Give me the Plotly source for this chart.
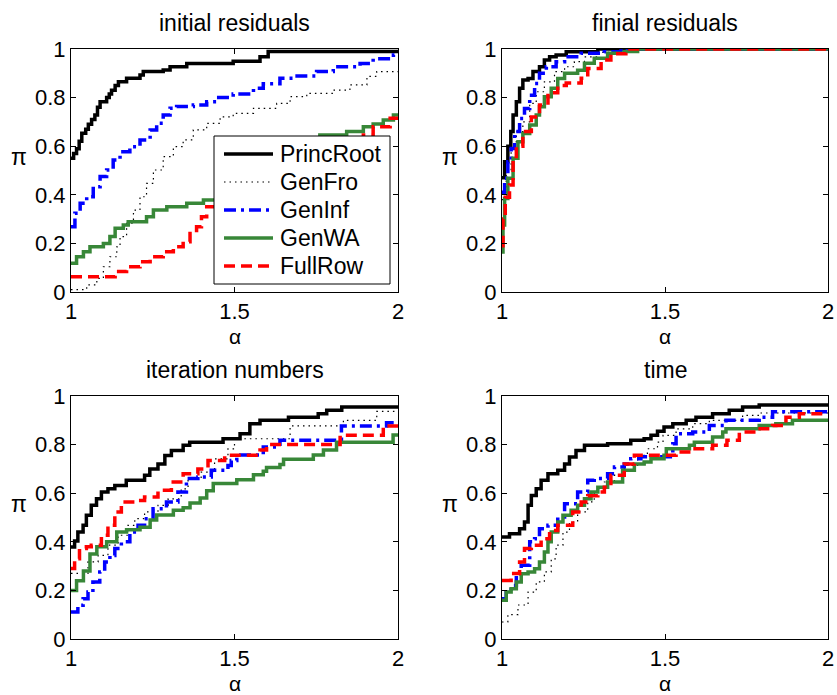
import plotly.graph_objects as go

# ---------------- data ----------------
methods = ["PrincRoot", "GenFro", "GenInf", "GenWA", "FullRow"]
panel_titles = ["initial residuals", "finial residuals", "iteration numbers", "time"]
x_ticks = [1, 1.5, 2]
y_ticks = [0, 0.2, 0.4, 0.6, 0.8, 1]
y_ticktext = ["0", "0.2", "0.4", "0.6", "0.8", "1"]

# initial residuals
ini_princ_a = [1.0, 1.008, 1.017, 1.025, 1.033, 1.045, 1.053, 1.063, 1.073, 1.081, 1.089, 1.109, 1.117, 1.124, 1.135, 1.145, 1.170, 1.211, 1.221, 1.282, 1.303, 1.354, 1.496, 1.578, 1.603]
ini_princ_p = [0.55, 0.57, 0.59, 0.62, 0.653, 0.67, 0.69, 0.71, 0.728, 0.76, 0.783, 0.80, 0.815, 0.83, 0.85, 0.865, 0.88, 0.893, 0.907, 0.914, 0.927, 0.94, 0.95, 0.968, 0.99]
ini_fro_a = [1.0, 1.048, 1.079, 1.099, 1.119, 1.140, 1.150, 1.170, 1.191, 1.211, 1.231, 1.252, 1.282, 1.313, 1.343, 1.374, 1.415, 1.456, 1.496, 1.558, 1.629, 1.670, 1.721, 1.802, 1.853, 1.905, 1.935]
ini_fro_p = [0.01, 0.029, 0.056, 0.104, 0.145, 0.186, 0.228, 0.283, 0.337, 0.392, 0.447, 0.502, 0.557, 0.598, 0.626, 0.667, 0.694, 0.721, 0.735, 0.756, 0.776, 0.804, 0.817, 0.831, 0.852, 0.887, 0.907]
ini_inf_a = [1.0, 1.012, 1.028, 1.048, 1.068, 1.089, 1.109, 1.129, 1.150, 1.180, 1.211, 1.242, 1.262, 1.282, 1.303, 1.323, 1.374, 1.415, 1.446, 1.496, 1.558, 1.588, 1.639, 1.680, 1.751, 1.802, 1.884, 1.924, 1.986]
ini_inf_p = [0.269, 0.324, 0.365, 0.392, 0.433, 0.475, 0.502, 0.543, 0.577, 0.598, 0.626, 0.667, 0.694, 0.728, 0.756, 0.763, 0.77, 0.783, 0.80, 0.815, 0.838, 0.857, 0.88, 0.889, 0.907, 0.927, 0.94, 0.96, 0.975]
ini_wa_a = [1.0, 1.017, 1.038, 1.058, 1.099, 1.119, 1.135, 1.160, 1.175, 1.231, 1.252, 1.293, 1.354, 1.405, 1.48, 1.56, 1.64, 1.70, 1.761, 1.843, 1.894, 1.924, 1.955, 1.986]
ini_wa_p = [0.118, 0.145, 0.166, 0.186, 0.2, 0.228, 0.262, 0.276, 0.289, 0.31, 0.337, 0.351, 0.365, 0.379, 0.42, 0.48, 0.55, 0.60, 0.646, 0.66, 0.68, 0.691, 0.708, 0.728]
ini_full_a = [1.0, 1.135, 1.170, 1.211, 1.242, 1.282, 1.313, 1.343, 1.364, 1.384, 1.399, 1.415, 1.50, 1.60, 1.70, 1.80, 1.894, 1.924, 1.976]
ini_full_p = [0.063, 0.084, 0.104, 0.125, 0.145, 0.166, 0.186, 0.207, 0.241, 0.269, 0.31, 0.351, 0.40, 0.47, 0.54, 0.60, 0.646, 0.68, 0.715]

# final residuals
fin_princ_a = [1.0, 1.008, 1.018, 1.027, 1.034, 1.044, 1.054, 1.064, 1.080, 1.095, 1.115, 1.130, 1.146, 1.166, 1.197, 1.294]
fin_princ_p = [0.47, 0.536, 0.60, 0.66, 0.728, 0.783, 0.838, 0.872, 0.879, 0.907, 0.927, 0.955, 0.968, 0.975, 0.989, 1.0]
fin_fro_a = [1.0, 1.013, 1.028, 1.044, 1.064, 1.085, 1.105, 1.130, 1.161, 1.192, 1.222, 1.253, 1.294, 1.345]
fin_fro_p = [0.38, 0.494, 0.618, 0.66, 0.70, 0.776, 0.824, 0.865, 0.907, 0.927, 0.948, 0.968, 0.986, 1.0]
fin_inf_a = [1.0, 1.008, 1.018, 1.028, 1.039, 1.054, 1.069, 1.085, 1.100, 1.115, 1.136, 1.166, 1.192, 1.243, 1.314, 1.365]
fin_inf_p = [0.41, 0.468, 0.536, 0.591, 0.66, 0.714, 0.755, 0.81, 0.858, 0.90, 0.927, 0.948, 0.968, 0.982, 0.989, 1.0]
fin_wa_a = [1.0, 1.003, 1.008, 1.018, 1.034, 1.049, 1.064, 1.085, 1.105, 1.115, 1.130, 1.151, 1.171, 1.192, 1.232, 1.253, 1.283, 1.324, 1.375, 1.416]
fin_wa_p = [0.165, 0.276, 0.385, 0.468, 0.55, 0.618, 0.652, 0.687, 0.728, 0.762, 0.803, 0.838, 0.879, 0.90, 0.913, 0.941, 0.962, 0.982, 0.99, 1.0]
fin_full_a = [1.0, 1.003, 1.010, 1.023, 1.034, 1.044, 1.064, 1.090, 1.115, 1.141, 1.171, 1.197, 1.243, 1.263, 1.304, 1.334, 1.380]
fin_full_p = [0.19, 0.30, 0.39, 0.44, 0.54, 0.60, 0.66, 0.72, 0.77, 0.82, 0.85, 0.86, 0.88, 0.92, 0.955, 0.98, 1.0]

# iteration numbers
it_princ_a = [1.0, 1.011, 1.021, 1.037, 1.047, 1.062, 1.078, 1.093, 1.113, 1.134, 1.169, 1.225, 1.241, 1.266, 1.287, 1.307, 1.343, 1.363, 1.465, 1.517, 1.547, 1.578, 1.665, 1.756, 1.782, 1.828]
it_princ_p = [0.379, 0.403, 0.44, 0.468, 0.509, 0.55, 0.577, 0.605, 0.618, 0.632, 0.653, 0.674, 0.70, 0.72, 0.755, 0.776, 0.797, 0.81, 0.824, 0.845, 0.886, 0.90, 0.913, 0.927, 0.941, 0.955]
it_fro_a = [1.0, 1.052, 1.083, 1.113, 1.144, 1.174, 1.195, 1.225, 1.266, 1.297, 1.337, 1.358, 1.398, 1.439, 1.480, 1.500, 1.670, 1.833, 1.935]
it_fro_p = [0.27, 0.317, 0.344, 0.386, 0.427, 0.468, 0.495, 0.523, 0.55, 0.577, 0.618, 0.66, 0.687, 0.741, 0.782, 0.824, 0.877, 0.90, 0.937]
it_inf_a = [1.0, 1.021, 1.037, 1.052, 1.067, 1.088, 1.103, 1.119, 1.134, 1.154, 1.180, 1.205, 1.225, 1.251, 1.292, 1.327, 1.353, 1.388, 1.429, 1.480, 1.490, 1.507, 1.588, 1.639, 1.827, 1.965]
it_inf_p = [0.111, 0.139, 0.166, 0.193, 0.235, 0.276, 0.317, 0.344, 0.372, 0.40, 0.44, 0.468, 0.495, 0.536, 0.564, 0.605, 0.66, 0.667, 0.694, 0.714, 0.735, 0.757, 0.79, 0.818, 0.877, 0.89]
it_wa_a = [1.0, 1.017, 1.038, 1.058, 1.079, 1.109, 1.140, 1.170, 1.211, 1.242, 1.262, 1.313, 1.343, 1.364, 1.395, 1.415, 1.435, 1.507, 1.558, 1.588, 1.598, 1.639, 1.650, 1.741, 1.772, 1.812, 1.985]
it_wa_p = [0.20, 0.24, 0.28, 0.35, 0.38, 0.40, 0.44, 0.45, 0.46, 0.49, 0.51, 0.53, 0.54, 0.56, 0.58, 0.61, 0.64, 0.655, 0.676, 0.69, 0.706, 0.718, 0.74, 0.757, 0.778, 0.81, 0.84]
it_full_a = [1.0, 1.011, 1.026, 1.047, 1.062, 1.093, 1.113, 1.134, 1.154, 1.195, 1.225, 1.266, 1.307, 1.343, 1.388, 1.419, 1.470, 1.578, 1.598, 1.823, 1.955]
it_full_p = [0.29, 0.33, 0.372, 0.38, 0.386, 0.427, 0.468, 0.523, 0.564, 0.57, 0.584, 0.612, 0.646, 0.68, 0.70, 0.735, 0.756, 0.778, 0.80, 0.838, 0.877]

# time
tm_princ_a = [1.0, 1.023, 1.054, 1.069, 1.080, 1.090, 1.105, 1.120, 1.141, 1.171, 1.192, 1.207, 1.227, 1.253, 1.324, 1.395, 1.436, 1.457, 1.477, 1.497, 1.524, 1.565, 1.595, 1.646, 1.697, 1.738, 1.789]
tm_princ_p = [0.42, 0.433, 0.454, 0.481, 0.55, 0.591, 0.618, 0.653, 0.68, 0.694, 0.72, 0.749, 0.776, 0.797, 0.804, 0.818, 0.824, 0.838, 0.855, 0.872, 0.886, 0.90, 0.913, 0.927, 0.941, 0.955, 0.963]
tm_fro_a = [1.0, 1.018, 1.049, 1.080, 1.105, 1.130, 1.151, 1.166, 1.187, 1.207, 1.232, 1.263, 1.283, 1.314, 1.345, 1.375, 1.416, 1.446, 1.477, 1.494, 1.534, 1.585, 1.636, 1.738, 1.789]
tm_fro_p = [0.07, 0.10, 0.14, 0.193, 0.235, 0.276, 0.33, 0.386, 0.44, 0.481, 0.523, 0.564, 0.605, 0.646, 0.674, 0.714, 0.756, 0.783, 0.81, 0.838, 0.865, 0.886, 0.90, 0.92, 0.93]
tm_inf_a = [1.0, 1.013, 1.028, 1.044, 1.059, 1.085, 1.100, 1.115, 1.141, 1.171, 1.192, 1.232, 1.263, 1.283, 1.324, 1.345, 1.375, 1.395, 1.426, 1.524, 1.534, 1.585, 1.636, 1.687, 1.789, 1.830]
tm_inf_p = [0.166, 0.193, 0.22, 0.269, 0.303, 0.40, 0.413, 0.454, 0.468, 0.502, 0.557, 0.605, 0.653, 0.66, 0.68, 0.708, 0.72, 0.742, 0.75, 0.804, 0.845, 0.852, 0.879, 0.90, 0.913, 0.935]
tm_wa_a = [1.0, 1.013, 1.028, 1.044, 1.059, 1.080, 1.100, 1.115, 1.130, 1.141, 1.151, 1.171, 1.187, 1.212, 1.232, 1.253, 1.273, 1.294, 1.324, 1.370, 1.406, 1.436, 1.457, 1.497, 1.504, 1.575, 1.590, 1.646, 1.677, 1.687, 1.789, 1.840, 1.891]
tm_wa_p = [0.159, 0.193, 0.207, 0.235, 0.269, 0.276, 0.289, 0.317, 0.358, 0.40, 0.44, 0.481, 0.509, 0.53, 0.55, 0.577, 0.605, 0.625, 0.646, 0.694, 0.72, 0.728, 0.742, 0.756, 0.783, 0.797, 0.81, 0.831, 0.852, 0.865, 0.879, 0.886, 0.90]
tm_full_a = [1.0, 1.028, 1.054, 1.069, 1.090, 1.120, 1.146, 1.171, 1.217, 1.243, 1.263, 1.294, 1.314, 1.334, 1.375, 1.406, 1.534, 1.585, 1.646, 1.690, 1.728, 1.779, 1.830, 1.871, 1.912]
tm_full_p = [0.241, 0.27, 0.317, 0.372, 0.386, 0.413, 0.447, 0.468, 0.523, 0.564, 0.59, 0.605, 0.625, 0.674, 0.72, 0.756, 0.77, 0.783, 0.797, 0.818, 0.852, 0.865, 0.879, 0.913, 0.927]

panels = [
    [(ini_princ_a, ini_princ_p), (ini_fro_a, ini_fro_p), (ini_inf_a, ini_inf_p), (ini_wa_a, ini_wa_p), (ini_full_a, ini_full_p)],
    [(fin_princ_a, fin_princ_p), (fin_fro_a, fin_fro_p), (fin_inf_a, fin_inf_p), (fin_wa_a, fin_wa_p), (fin_full_a, fin_full_p)],
    [(it_princ_a, it_princ_p), (it_fro_a, it_fro_p), (it_inf_a, it_inf_p), (it_wa_a, it_wa_p), (it_full_a, it_full_p)],
    [(tm_princ_a, tm_princ_p), (tm_fro_a, tm_fro_p), (tm_inf_a, tm_inf_p), (tm_wa_a, tm_wa_p), (tm_full_a, tm_full_p)],
]

# ---------------- styles ----------------
styles = [
    dict(color="black", width=3.5, dash="solid"),
    dict(color="black", width=1.2, dash="1.5px,4px"),
    dict(color="rgb(0,0,255)", width=3.5, dash="12px,5px,3px,5px"),
    dict(color="rgb(56,135,56)", width=3.5, dash="solid"),
    dict(color="rgb(255,0,0)", width=3.5, dash="11px,6px"),
]

FONT = "Liberation Sans, Arial, Helvetica, sans-serif"
W, H = 837, 695
xdom = [[71 / W, 398 / W], [502 / W, 828 / W]]
ydom = [[1 - 292 / H, 1 - 49 / H], [1 - 639 / H, 1 - 396 / H]]

fig = go.Figure()
for k in range(4):
    r, c = divmod(k, 2)
    ax = "" if k == 0 else str(k + 1)
    for i in range(5):
        a, p = panels[k][i]
        xs = list(a) + [2.0]
        ys = list(p) + [p[-1]]
        fig.add_trace(go.Scatter(
            x=xs, y=ys, mode="lines", line_shape="hv",
            line=styles[i], name=methods[i], showlegend=False,
            xaxis="x" + ax, yaxis="y" + ax,
        ))
    axis_common = dict(showline=True, linecolor="black", linewidth=1, mirror="allticks",
                       ticks="inside", ticklen=5, tickwidth=1, tickcolor="black",
                       showgrid=False, zeroline=False, automargin=False,
                       tickfont=dict(family=FONT, size=22, color="black"))
    fig.layout["xaxis" + ax] = dict(axis_common, domain=xdom[c], range=[1, 2],
                                    tickvals=x_ticks, ticktext=[str(v) for v in x_ticks],
                                    anchor="y" + ax)
    fig.layout["yaxis" + ax] = dict(axis_common, domain=ydom[r], range=[0, 1],
                                    tickvals=y_ticks, ticktext=y_ticktext,
                                    ticklabelstandoff=0, anchor="x" + ax)

annotations = []
for k in range(4):
    r, c = divmod(k, 2)
    xc = (xdom[c][0] + xdom[c][1]) / 2
    ytop = ydom[r][1]
    ybot = ydom[r][0]
    annotations.append(dict(text=panel_titles[k], xref="paper", yref="paper", x=xc, y=ytop + 26 / H,
                            xanchor="center", yanchor="middle", showarrow=False,
                            font=dict(family=FONT, size=23, color="black")))
    annotations.append(dict(text="α", xref="paper", yref="paper", x=xc, y=ybot - 44 / H,
                            xanchor="center", yanchor="middle", showarrow=False,
                            font=dict(family=FONT, size=21, color="black")))
    annotations.append(dict(text="π", xref="paper", yref="paper", x=xdom[c][0] - 52 / W,
                            y=(ybot + ytop) / 2 + 14 / H,
                            xanchor="center", yanchor="middle", showarrow=False,
                            font=dict(family=FONT, size=23, color="black")))

# ---------------- legend (drawn inside the first panel) ----------------
shapes = [dict(type="rect", xref="paper", yref="paper", layer="above",
               x0=214 / W, x1=390 / W, y0=1 - 284 / H, y1=1 - 136 / H,
               line=dict(color="black", width=1), fillcolor="white")]
leg_rows = [154, 182, 210, 238, 266]
for i in range(5):
    yy = 1 - leg_rows[i] / H
    shapes.append(dict(type="line", xref="paper", yref="paper", layer="above",
                       x0=224 / W, x1=273 / W, y0=yy, y1=yy,
                       line=dict(color=styles[i]["color"], width=styles[i]["width"],
                                 dash=styles[i]["dash"])))
    annotations.append(dict(text=methods[i], xref="paper", yref="paper", x=278 / W, y=yy,
                            xanchor="left", yanchor="middle", showarrow=False,
                            font=dict(family=FONT, size=23, color="black")))

fig.update_layout(
    width=W, height=H, margin=dict(l=0, r=0, t=0, b=0, autoexpand=False),
    paper_bgcolor="white", plot_bgcolor="white",
    annotations=annotations, shapes=shapes,
    showlegend=False,
)
fig.write_html("out.html")
